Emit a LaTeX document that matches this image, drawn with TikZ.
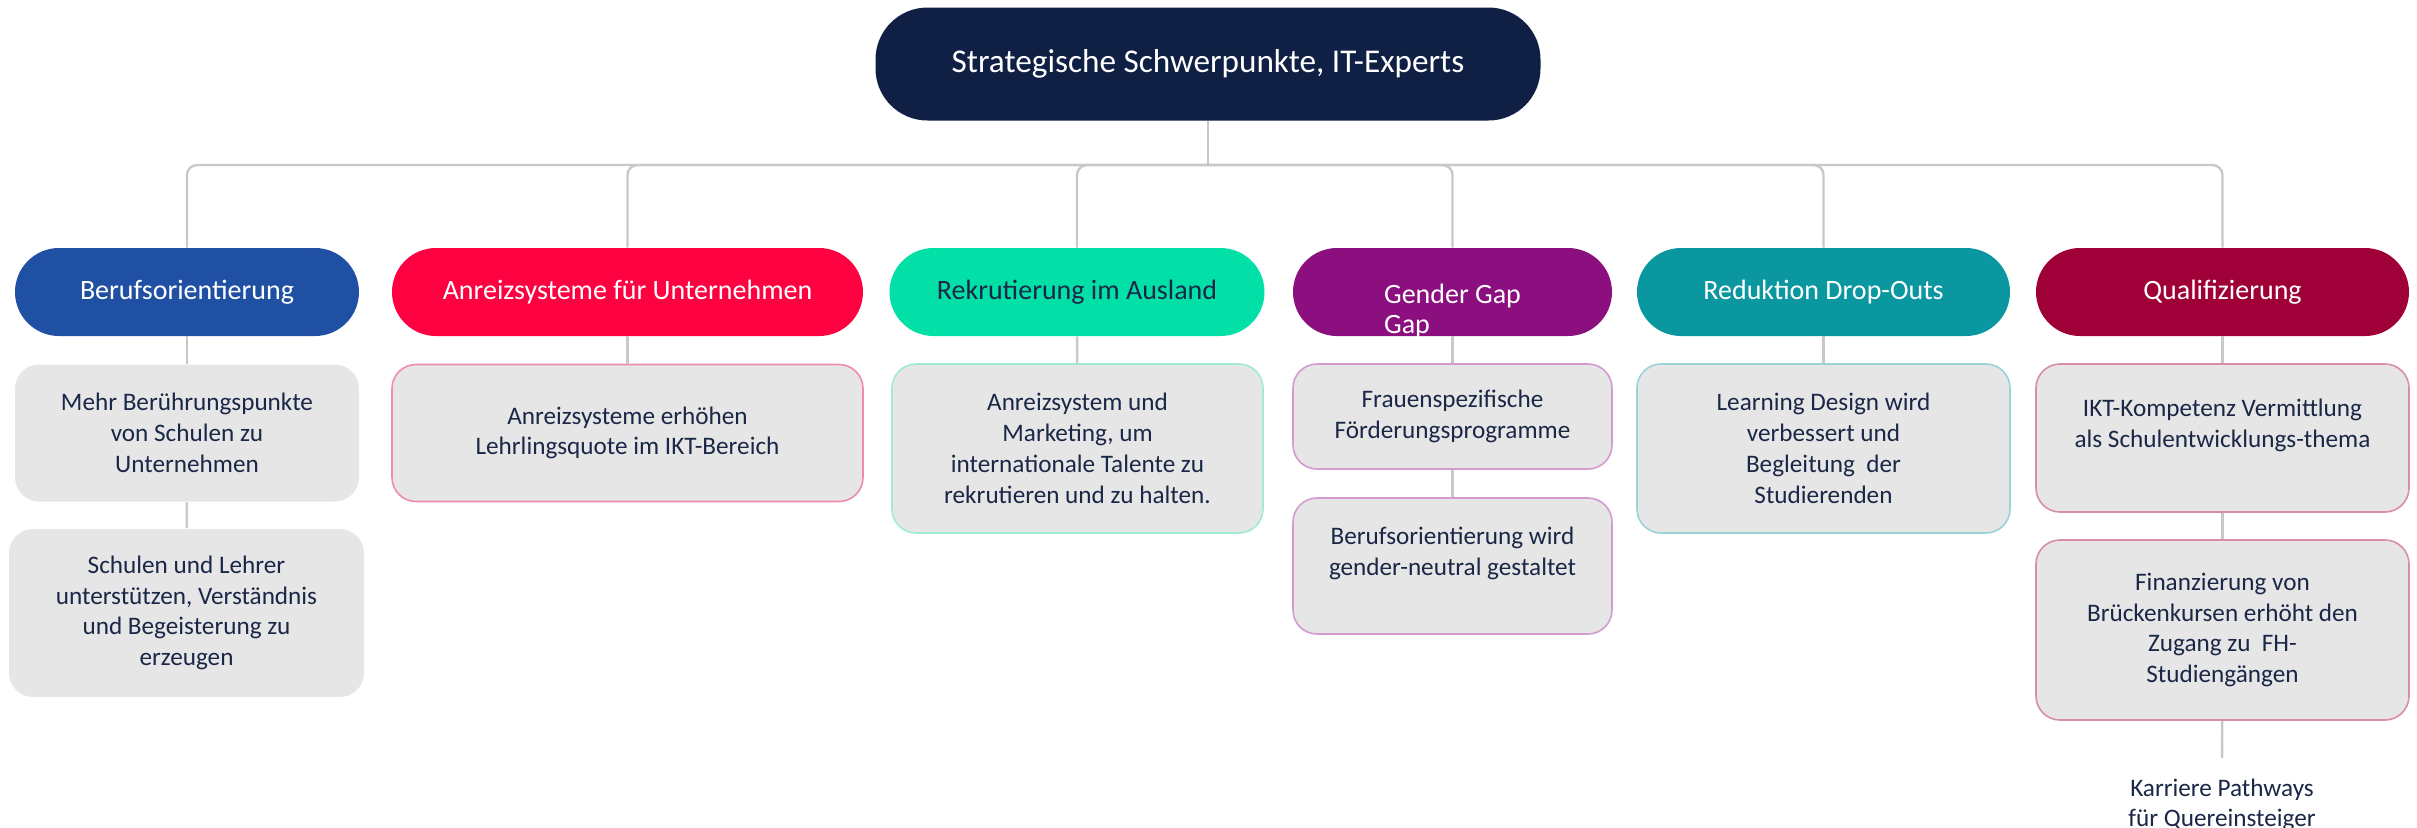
\documentclass[tikz,border=0pt]{standalone}
\usepackage{fontspec}
\setmainfont{Carlito}
\usepackage{xcolor}
\usepackage{tikz}

\definecolor{rootcol}{HTML}{0F2044}
\definecolor{berufcol}{HTML}{2050A4}
\definecolor{anreizcol}{HTML}{FD0140}
\definecolor{rekrutcol}{HTML}{03E0A7}
\definecolor{gendercol}{HTML}{8B0F7E}
\definecolor{redukcol}{HTML}{0A979F}
\definecolor{qualcol}{HTML}{A00038}
\definecolor{boxfill}{HTML}{E6E6E6}
\definecolor{txtcol}{HTML}{1B2747}
\definecolor{linecol}{HTML}{C8C8C8}
\definecolor{anreizline}{HTML}{F28BA7}
\definecolor{rekrutline}{HTML}{9FEBD6}
\definecolor{genderline}{HTML}{D39BD0}
\definecolor{redukline}{HTML}{99D3D6}
\definecolor{qualline}{HTML}{D98EA6}

\begin{document}
\begin{tikzpicture}[x=0.5pt,y=-0.5pt,
	conn/.style={draw=linecol, line width=1.2pt},
	pill/.style={rounded corners=22pt, minimum width=#1, minimum height=44pt, inner sep=0pt, text=white, align=center, font=\fontsize{14}{15}\selectfont},
	detail/.style={fill=boxfill, rounded corners=12pt, line width=0.8pt, minimum width=#1, inner sep=0pt, text=txtcol, align=center, font=\fontsize{12.6}{15.4}\selectfont}]

	\useasboundingbox (0,0) rectangle (2417,827);

	% top
	\node[fill=rootcol, rounded corners=26pt, minimum width=332.5pt, minimum height=56.5pt, text=white, font=\fontsize{16.6}{20}\selectfont] (root) at (1208,64) {Strategische Schwerpunkte, IT-Experts};
	\coordinate (bus) at (1208,165);

	% categories
	\node[pill=172pt, fill=berufcol] (beruf) at (187,292) {Berufsorientierung};
	\node[pill=235.5pt, fill=anreizcol] (anreiz) at (627.5,292) {Anreizsysteme für Unternehmen};
	\node[pill=187.5pt, fill=rekrutcol, text=txtcol] (rekrut) at (1077,292) {Rekrutierung im Ausland};
	\node[pill=159.5pt, fill=gendercol, align=left, text height=41pt, text depth=0pt] (gender) at (1452.5,292) {Gender Gap\\Gap};
	\node[pill=186.5pt, fill=redukcol] (reduk) at (1823.5,292) {Reduktion Drop-Outs};
	\node[pill=186.5pt, fill=qualcol] (qual) at (2222.5,292) {Qualifizierung};

	% measures
	\node[detail=172pt, minimum height=68.5pt] (beruf1) at (187,433) {Mehr Berührungspunkte\\von Schulen zu\\Unternehmen};
	\node[detail=177.5pt, minimum height=84pt] (beruf2) at (186.5,613) {Schulen und Lehrer\\unterstützen, Verständnis\\und Begeisterung zu\\erzeugen};
	\node[detail=235.5pt, minimum height=68.5pt, draw=anreizline] (anreiz1) at (627.5,433) {Anreizsysteme erhöhen\\Lehrlingsquote im IKT-Bereich};
	\node[detail=185.5pt, minimum height=84.5pt, draw=rekrutline] (rekrut1) at (1077.5,448.5) {Anreizsystem und\\Marketing, um\\internationale Talente zu\\rekrutieren und zu halten.};
	\node[detail=159.5pt, minimum height=52.5pt, draw=genderline] (gender1) at (1452.5,416.5) {Frauenspezifische\\Förderungsprogramme};
	\node[detail=159.5pt, minimum height=68pt, draw=genderline, text depth=15pt] (gender2) at (1452.5,566) {Berufsorientierung wird\\gender-neutral gestaltet};
	\node[detail=186.5pt, minimum height=84.5pt, draw=redukline] (reduk1) at (1823.5,448.5) {Learning Design wird\\verbessert und\\Begleitung~~der\\Studierenden};
	\node[detail=186.5pt, minimum height=74pt, draw=qualline, text depth=15pt] (qual1) at (2222.5,438) {IKT-Kompetenz Vermittlung\\als Schulentwicklungs-thema};
	\node[detail=186.5pt, minimum height=90pt, draw=qualline] (qual2) at (2222.5,630) {Finanzierung von\\Brückenkursen erhöht den\\Zugang zu~~FH-\\Studiengängen};
	\node[text=txtcol, align=center, inner xsep=0pt, inner ysep=10.5pt, font=\fontsize{12.6}{15}\selectfont, anchor=north] (karriere) at (2222,758) {Karriere Pathways\\für Quereinsteiger};

	% connectors
	\draw[conn] (root) -- (bus);
	\foreach \n in {beruf,anreiz,rekrut,gender,reduk,qual}
		\draw[conn, rounded corners=5pt] (bus) -| (\n.north);
	\draw[conn] (beruf) -- (beruf1);
	\draw[conn] (beruf1) -- (beruf2);
	\draw[conn] (anreiz) -- (anreiz1);
	\draw[conn] (rekrut) -- (rekrut1);
	\draw[conn] (gender) -- (gender1);
	\draw[conn] (gender1) -- (gender2);
	\draw[conn] (reduk) -- (reduk1);
	\draw[conn] (qual) -- (qual1);
	\draw[conn] (qual1) -- (qual2);
	\draw[conn] (qual2) -- (karriere);
\end{tikzpicture}
\end{document}
